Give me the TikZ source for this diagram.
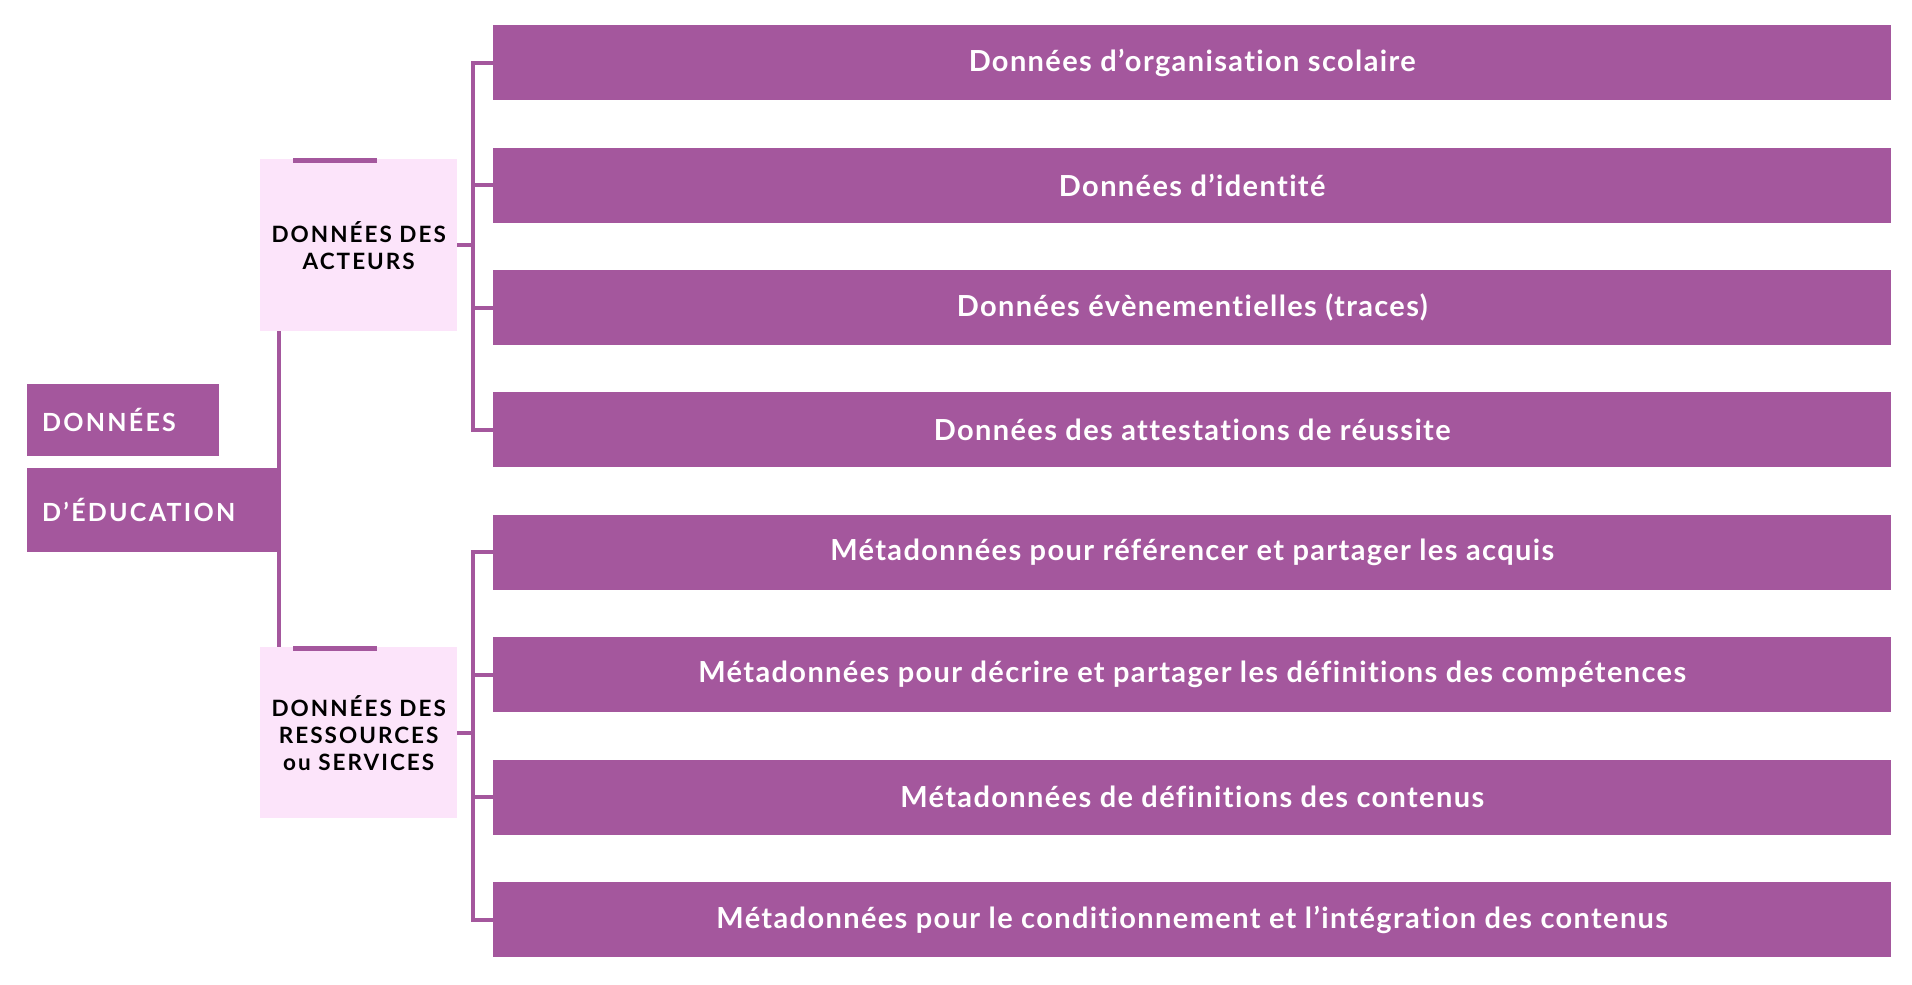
\documentclass[tikz,border=0pt]{standalone}
\usepackage{fontspec}
\setmainfont{Lato}[Ligatures=NoCommon]
\newfontfamily\rowfont{Lato}[Ligatures=NoCommon, LetterSpace=4.7]
\newfontfamily\capfont{Lato}[Ligatures=NoCommon, LetterSpace=9]
\usetikzlibrary{positioning}
\definecolor{prune}{RGB}{164,87,157}
\definecolor{rose}{RGB}{252,228,250}
\tikzset{
x=1pt, y=-1pt, % one unit is one pixel of the layout, y going down
node distance=47pt, % gap between two rows
row/.style={fill=prune, text=white, font=\rowfont\fontsize{29}{34}\selectfont\bfseries, minimum width=1398pt, minimum height=75pt, inner sep=0pt}, % the long boxes on the right
group/.style={fill=rose, text=black, font=\capfont\fontsize{22.5}{27}\selectfont\bfseries, align=center, minimum width=197pt, minimum height=172pt, inner sep=0pt}, % the two pink boxes
title/.style={fill=prune, text=white, font=\capfont\fontsize{25}{30}\selectfont\bfseries, inner xsep=15pt, inner ysep=0pt, anchor=north west, text width=#1, align=left}, % the boxes of the title
link/.style={draw=prune, line width=4pt}, % the lines between boxes
}

\begin{document}
\begin{tikzpicture}
        \useasboundingbox (0,0) rectangle (1912,985);

        \node[title=162pt, minimum height=72pt] (t1) at (27,384) {DONNÉES};
        \node[title=224pt, minimum height=84pt] (t2) at (27,468) {D’ÉDUCATION};

        \node[group, anchor=north west] (act) at (260,159) {DONNÉES DES\\ACTEURS};
        \node[group, anchor=north west, minimum height=171pt] (res) at (260,647) {DONNÉES DES\\RESSOURCES\\ou SERVICES};

        \node[row, anchor=north west] (r1) at (493,25) {Données d’organisation scolaire};
        \node[row, below=of r1] (r2) {Données d’identité};
        \node[row, below=of r2] (r3) {Données évènementielles (traces)};
        \node[row, below=of r3] (r4) {Données des attestations de réussite};
        \node[row, below=of r4] (r5) {Métadonnées pour référencer et partager les acquis};
        \node[row, below=of r5] (r6) {Métadonnées pour décrire et partager les définitions des compétences};
        \node[row, below=of r6] (r7) {Métadonnées de définitions des contenus};
        \node[row, below=of r7] (r8) {Métadonnées pour le conditionnement et l’intégration des contenus};

        % small bars on top of the pink boxes
        \fill[prune] ([xshift=33pt,yshift=1pt]act.north west) rectangle ([xshift=117pt,yshift=-4pt]act.north west);
        \fill[prune] ([xshift=33pt,yshift=1pt]res.north west) rectangle ([xshift=117pt,yshift=-4pt]res.north west);

        % trunk
        \draw[link] ([xshift=19pt]act.south west) -- ([xshift=19pt]res.north west);

        % brackets
        \coordinate (ba) at (473,0);
        \draw[link] (act.east) -- (act.east -| ba);
        \draw[link] (r1.west) -- (r1.west -| ba) -- (r4.west -| ba) -- (r4.west);
        \draw[link] (r2.west -| ba) -- (r2.west);
        \draw[link] (r3.west -| ba) -- (r3.west);
        \draw[link] (res.east) -- (res.east -| ba);
        \draw[link] (r5.west) -- (r5.west -| ba) -- (r8.west -| ba) -- (r8.west);
        \draw[link] (r6.west -| ba) -- (r6.west);
        \draw[link] (r7.west -| ba) -- (r7.west);
      \end{tikzpicture}
\end{document}
